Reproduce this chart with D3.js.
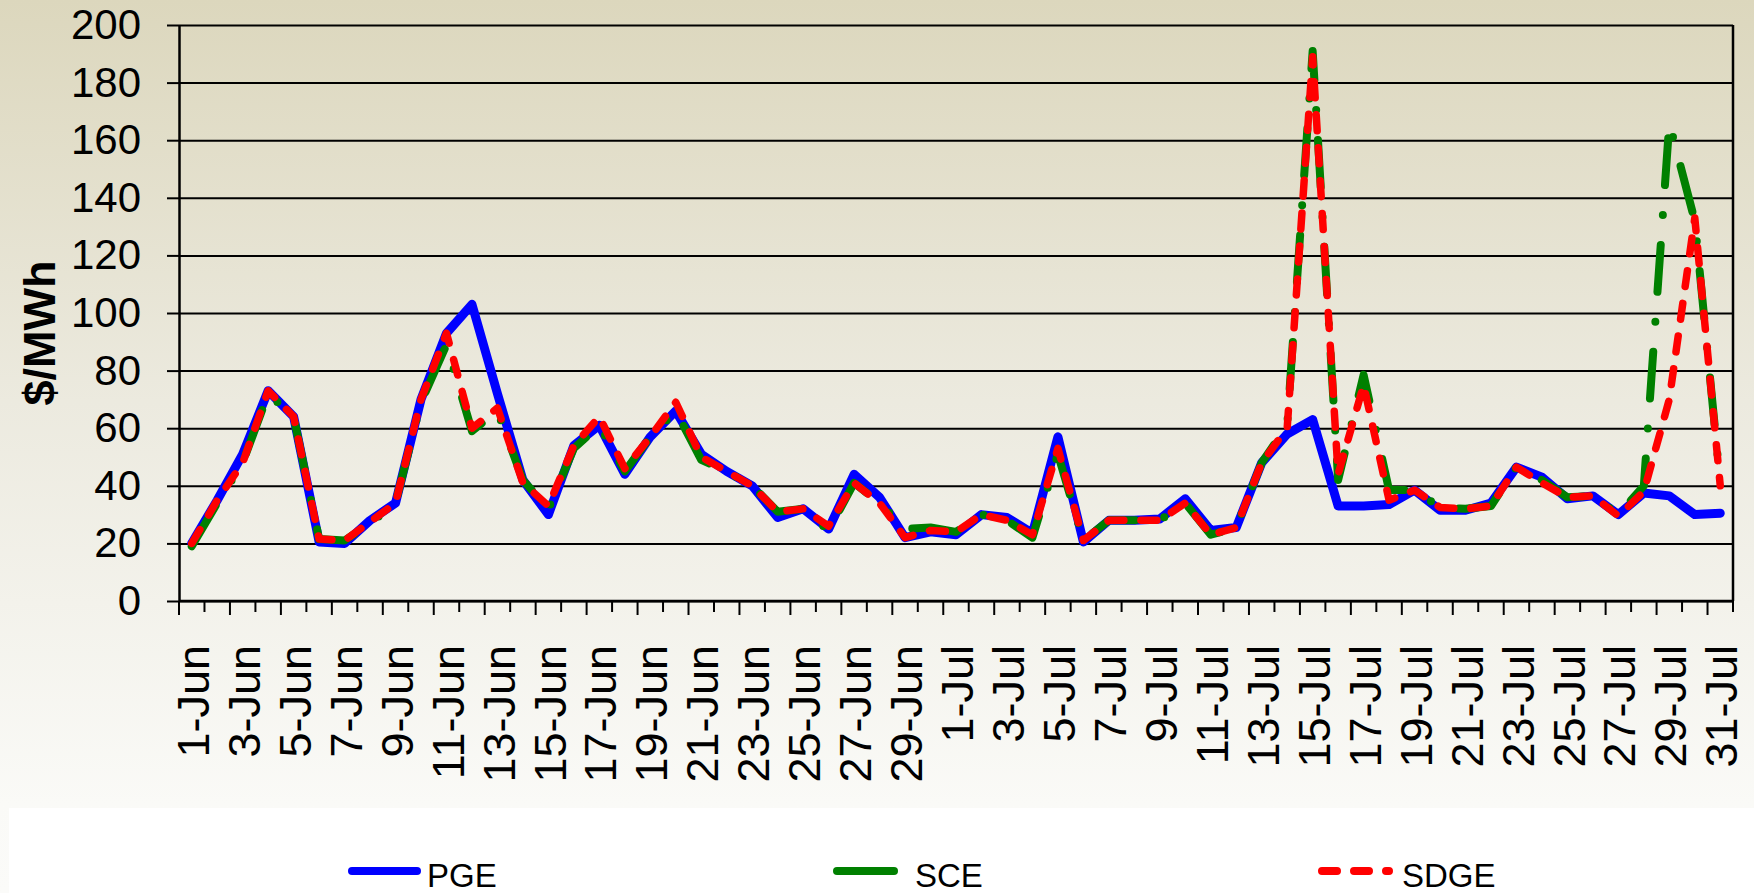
<!DOCTYPE html>
<html>
<head>
<meta charset="utf-8">
<script src="https://cdn.jsdelivr.net/npm/d3@7"></script>
<style>
  html, body { margin: 0; padding: 0; background: #fff; }
  svg { display: block; font-family: "Liberation Sans", Arial, sans-serif; }
</style>
</head>
<body>
<div id="chart"></div>
<script>
// Daily prices, 1-Jun to 31-Jul
const days = [];
for (let d = 1; d <= 30; d++) days.push(d + "-Jun");
for (let d = 1; d <= 31; d++) days.push(d + "-Jul");

const pge = [20, 35, 51, 73, 64, 20.5, 20, 28, 34, 70, 93, 103, 72, 42, 30, 54, 61, 44, 57, 66,
  51, 45, 40, 29, 32, 25, 44, 36, 22, 24,
  23, 30, 29, 23.5, 57, 20.5, 28, 28, 28.5, 35.5, 24.5, 25.5, 48, 58, 63, 33, 33, 33.5, 38.5, 31.5,
  31.5, 34, 46.5, 43, 35.5, 36.5, 30, 37.5, 36.5, 30, 30.5];
const sce = [19, 34, 48, 72, 64, 21.5, 21, 27, 34, 69, 89, 59, 66, 42, 32, 53, 61, 45, 57, 66,
  49, 45, 40, 31, 32, 24.5, 41, 34, 25, 25.5,
  24, 30, 28, 22, 51, 21, 28, 28, 28, 34, 23, 25.5, 48, 61, 191, 42, 78.5, 38.5, 38.5, 32.5,
  32, 33, 46.5, 42, 36, 36.5, 30, 40, 166, 132, 41];
const sdge = [20, 35, 48, 73, 64, 21.5, 21, 27.5, 34, 70, 93, 60, 67, 41, 33, 54, 64, 46, 57, 69,
  50, 45, 40, 31, 32, 26, 41, 34, 22, 24.5,
  24, 30, 28, 23, 53, 21, 28, 28, 28, 34, 23, 25.5, 48, 60, 189, 44, 75, 35, 38.5, 32.5,
  32, 33, 46.5, 41, 36, 36.5, 29.5, 38, 70, 133, 40];

const yTicks = [0, 20, 40, 60, 80, 100, 120, 140, 160, 180, 200];
const xLabels = days.filter((d, i) => i % 2 === 0);

const width = 1754, height = 893;
const margin = { top: 25, right: 21, bottom: 292, left: 179 };

const svg = d3.select("#chart").append("svg")
  .attr("width", width)
  .attr("height", height);

// background gradient
const defs = svg.append("defs");
const grad = defs.append("linearGradient")
  .attr("id", "bg").attr("x1", 0).attr("y1", 0).attr("x2", 0).attr("y2", 1);
grad.append("stop").attr("offset", "0%").attr("stop-color", "#dcd7bd");
grad.append("stop").attr("offset", "45%").attr("stop-color", "#eceadf");
grad.append("stop").attr("offset", "90%").attr("stop-color", "#fafaf7");
grad.append("stop").attr("offset", "100%").attr("stop-color", "#fbfbf9");
svg.append("rect").attr("width", width).attr("height", height).attr("fill", "url(#bg)");

const x = d3.scaleBand()
  .domain(days)
  .range([margin.left, width - margin.right])
  .paddingInner(0).paddingOuter(0);

const y = d3.scaleLinear()
  .domain([0, 200])
  .range([height - margin.bottom, margin.top]);

const cx = d => x(d) + x.bandwidth() / 2;

// gridlines
svg.append("g")
  .attr("transform", `translate(${margin.left},0)`)
  .call(d3.axisLeft(y).tickValues(yTicks).tickSize(-(width - margin.left - margin.right)).tickFormat(""))
  .call(g => g.select(".domain").remove())
  .call(g => g.selectAll("line").attr("stroke", "#000").attr("stroke-width", 2));

// y axis
svg.append("g")
  .attr("transform", `translate(${margin.left},0)`)
  .call(d3.axisLeft(y).tickValues(yTicks).tickSize(12).tickSizeOuter(0).tickPadding(26))
  .call(g => g.select(".domain").attr("stroke", "#000").attr("stroke-width", 2.5))
  .call(g => g.selectAll("line").attr("stroke", "#000").attr("stroke-width", 2))
  .call(g => g.selectAll("text")
    .attr("font-family", "'Liberation Sans', Arial, sans-serif")
    .attr("font-size", 42).attr("fill", "#000"));

// right border
svg.append("line")
  .attr("x1", width - margin.right).attr("x2", width - margin.right)
  .attr("y1", y(200)).attr("y2", y(0))
  .attr("stroke", "#000").attr("stroke-width", 2.5);

// x axis line and ticks at category boundaries
const xBase = y(0);
svg.append("line")
  .attr("x1", margin.left).attr("x2", width - margin.right)
  .attr("y1", xBase).attr("y2", xBase)
  .attr("stroke", "#000").attr("stroke-width", 2.5);
const edges = days.map(d => x(d)).concat([x(days[days.length - 1]) + x.bandwidth()]);
svg.append("g").selectAll("line")
  .data(edges)
  .join("line")
  .attr("x1", d => d).attr("x2", d => d)
  .attr("y1", xBase).attr("y2", (d, i) => xBase + (i % 2 === 0 ? 14 : 11))
  .attr("stroke", "#000").attr("stroke-width", 2);

// x labels
svg.append("g")
  .attr("transform", `translate(0,${xBase})`)
  .call(d3.axisBottom(x).tickValues(xLabels).tickSize(0))
  .call(g => g.select(".domain").remove())
  .call(g => g.selectAll("text")
    .attr("font-family", "'Liberation Sans', Arial, sans-serif")
    .attr("font-size", 45).attr("fill", "#000")
    .attr("transform", "rotate(-90)")
    .attr("text-anchor", "end")
    .attr("x", -44).attr("y", 0).attr("dy", "0.38em"));

// y title
svg.append("text")
  .attr("transform", `translate(39,${(y(0) + y(200)) / 2 + 20}) rotate(-90)`)
  .attr("text-anchor", "middle")
  .attr("dy", "0.35em")
  .attr("font-size", 45)
  .attr("font-weight", "bold")
  .text("$/MWh");

// series
const series = [
  { name: "PGE", values: pge, color: "#0000ff", width: 9, dash: null },
  { name: "SCE", values: sce, color: "#008000", width: 8, dash: "47 30 0 30" },
  { name: "SDGE", values: sdge, color: "#ff0000", width: 7.5, dash: "16 17" }
];

const line = d3.line()
  .x((v, i) => cx(days[i]))
  .y(v => y(v));

svg.append("g").selectAll("path")
  .data(series)
  .join("path")
  .attr("d", s => line(s.values))
  .attr("fill", "none")
  .attr("stroke", s => s.color)
  .attr("stroke-width", s => s.width)
  .attr("stroke-linejoin", "round")
  .attr("stroke-linecap", "round")
  .attr("stroke-dasharray", s => s.dash);

// legend
svg.append("rect")
  .attr("x", 9).attr("y", 808)
  .attr("width", width - 9).attr("height", height - 808)
  .attr("fill", "#fff");

const legendPos = [
  { x1: 352, x2: 417, tx: 427 },
  { x1: 837, x2: 894, tx: 915 },
  { x1: 1322, x2: 1389, tx: 1402 }
];
const lg = svg.append("g").selectAll("g")
  .data(series)
  .join("g");
lg.append("line")
  .attr("x1", (s, i) => legendPos[i].x1)
  .attr("x2", (s, i) => legendPos[i].x2)
  .attr("y1", 871).attr("y2", 871)
  .attr("stroke", s => s.color)
  .attr("stroke-width", 8)
  .attr("stroke-linecap", "round")
  .attr("stroke-dasharray", (s, i) => i === 1 ? "57 30 0 30" : "15 17");
lg.select("line").filter((s, i) => i === 0).attr("stroke-dasharray", null);
lg.append("text")
  .attr("x", (s, i) => legendPos[i].tx)
  .attr("y", 887)
  .attr("font-size", 33)
  .attr("fill", "#000")
  .text(s => s.name);
</script>
</body>
</html>
